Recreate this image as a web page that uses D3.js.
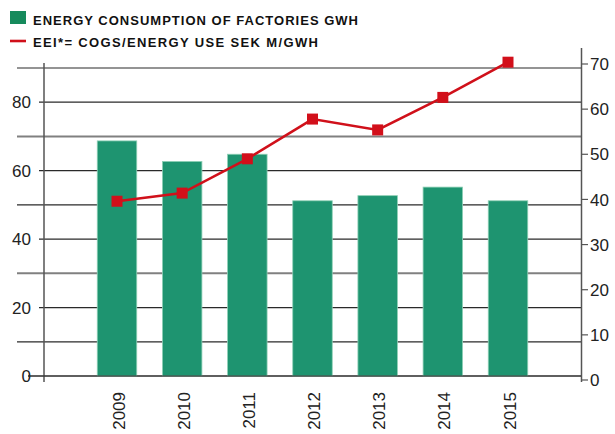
<!DOCTYPE html>
<html><head><meta charset="utf-8">
<script src="https://cdn.jsdelivr.net/npm/d3@7"></script>
<style>
html,body{margin:0;padding:0;background:#fff;}
svg{display:block;}
</style></head>
<body>
<svg id="chart" width="615" height="434"></svg>
<script>
const years = ["2009","2010","2011","2012","2013","2014","2015"];
const energy = [68.7, 62.7, 64.8, 51.2, 52.7, 55.2, 51.2];
const eei = [39.6, 41.4, 49.0, 57.8, 55.4, 62.6, 70.4];
const leftTicks = [0, 20, 40, 60, 80];
const gridValues = [0,10,20,30,40,50,60,70,80,90];
const rightTicks = [0,10,20,30,40,50,60,70];
const legendLabels = ["ENERGY CONSUMPTION OF FACTORIES GWH", "EEI*= COGS/ENERGY USE SEK M/GWH"];

const svg = d3.select("#chart");
const font = "'Liberation Sans', Arial, sans-serif";

const x = d3.scalePoint().domain(years).range([117, 508]);
const barW = 39.5;
const yL = d3.scaleLinear().domain([0, 90]).range([376, 68]);
const yR = d3.scaleLinear().domain([0, 70]).range([380, 64]);

// gridlines
const grid = svg.append("g");
gridValues.forEach(v => {
  let x0 = (v % 20 === 10) ? 17 : (v === 0 ? 28 : 39);
  const gray = (v === 70 || v === 30);
  grid.append("line")
    .attr("x1", x0).attr("x2", 581)
    .attr("y1", yL(v)).attr("y2", yL(v))
    .attr("stroke", gray ? "#808080" : "#2a2a2a")
    .attr("stroke-width", gray ? 2 : 1.2);
});

// axes vertical lines
svg.append("line").attr("x1", 44).attr("x2", 44).attr("y1", 63).attr("y2", 382)
  .attr("stroke", "#555").attr("stroke-width", 1.5);
svg.append("line").attr("x1", 581.5).attr("x2", 581.5).attr("y1", 48).attr("y2", 382)
  .attr("stroke", "#555").attr("stroke-width", 1.5);

// left labels
svg.append("g").selectAll("text").data(leftTicks).join("text")
  .attr("x", 31).attr("y", d => yL(d)).attr("dy", "0.36em")
  .attr("text-anchor", "end")
  .attr("font-family", font).attr("font-size", 17).attr("fill", "#222")
  .text(d => d);

// right ticks & labels
const rg = svg.append("g");
rg.selectAll("line").data(rightTicks).join("line")
  .attr("x1", 581.5).attr("x2", 588)
  .attr("y1", d => yR(d)).attr("y2", d => yR(d))
  .attr("stroke", "#555").attr("stroke-width", 1.2);
rg.selectAll("text").data(rightTicks).join("text")
  .attr("x", 590).attr("y", d => yR(d)).attr("dy", "0.36em")
  .attr("font-family", font).attr("font-size", 17).attr("fill", "#222")
  .text(d => d);

// bars
svg.append("g").selectAll("rect").data(years).join("rect")
  .attr("x", (d) => x(d) - barW / 2)
  .attr("width", barW)
  .attr("y", (d, i) => yL(energy[i]))
  .attr("height", (d, i) => yL(0) - yL(energy[i]))
  .attr("fill", "#1e9470")
  .attr("stroke", "#8fd0b6").attr("stroke-width", 0.8);

// baseline over bars
svg.append("line").attr("x1", 28).attr("x2", 581).attr("y1", yL(0)).attr("y2", yL(0))
  .attr("stroke", "#2a2a2a").attr("stroke-width", 1.2);

// x labels
svg.append("g").selectAll("text").data(years).join("text")
  .attr("transform", d => `translate(${x(d) + 1.5},392) rotate(-90)`)
  .attr("text-anchor", "end").attr("dy", "0.36em")
  .attr("font-family", font).attr("font-size", 17).attr("fill", "#222")
  .text(d => d);

// line
const line = d3.line().x((d, i) => x(years[i])).y(d => yR(d));
svg.append("path").datum(eei).attr("d", line)
  .attr("fill", "none").attr("stroke", "#d0101a").attr("stroke-width", 2.6);
svg.append("g").selectAll("rect").data(eei).join("rect")
  .attr("x", (d, i) => x(years[i]) - 5.5).attr("y", d => yR(d) - 5.5)
  .attr("width", 11).attr("height", 11).attr("fill", "#d20f1a");

// legend
svg.append("rect").attr("x", 10).attr("y", 11).attr("width", 16).attr("height", 13).attr("fill", "#168a5c");
svg.append("line").attr("x1", 10).attr("x2", 26).attr("y1", 41).attr("y2", 41)
  .attr("stroke", "#d0101a").attr("stroke-width", 2.6);
svg.append("text").attr("x", 33).attr("y", 25)
  .attr("font-family", font).attr("font-weight", "bold").attr("font-size", 13).attr("fill", "#111")
  .attr("textLength", 325).attr("lengthAdjust", "spacing")
  .text(legendLabels[0]);
svg.append("text").attr("x", 33).attr("y", 47)
  .attr("font-family", font).attr("font-weight", "bold").attr("font-size", 13).attr("fill", "#111")
  .attr("textLength", 285).attr("lengthAdjust", "spacing")
  .text(legendLabels[1]);
</script>
</body></html>
